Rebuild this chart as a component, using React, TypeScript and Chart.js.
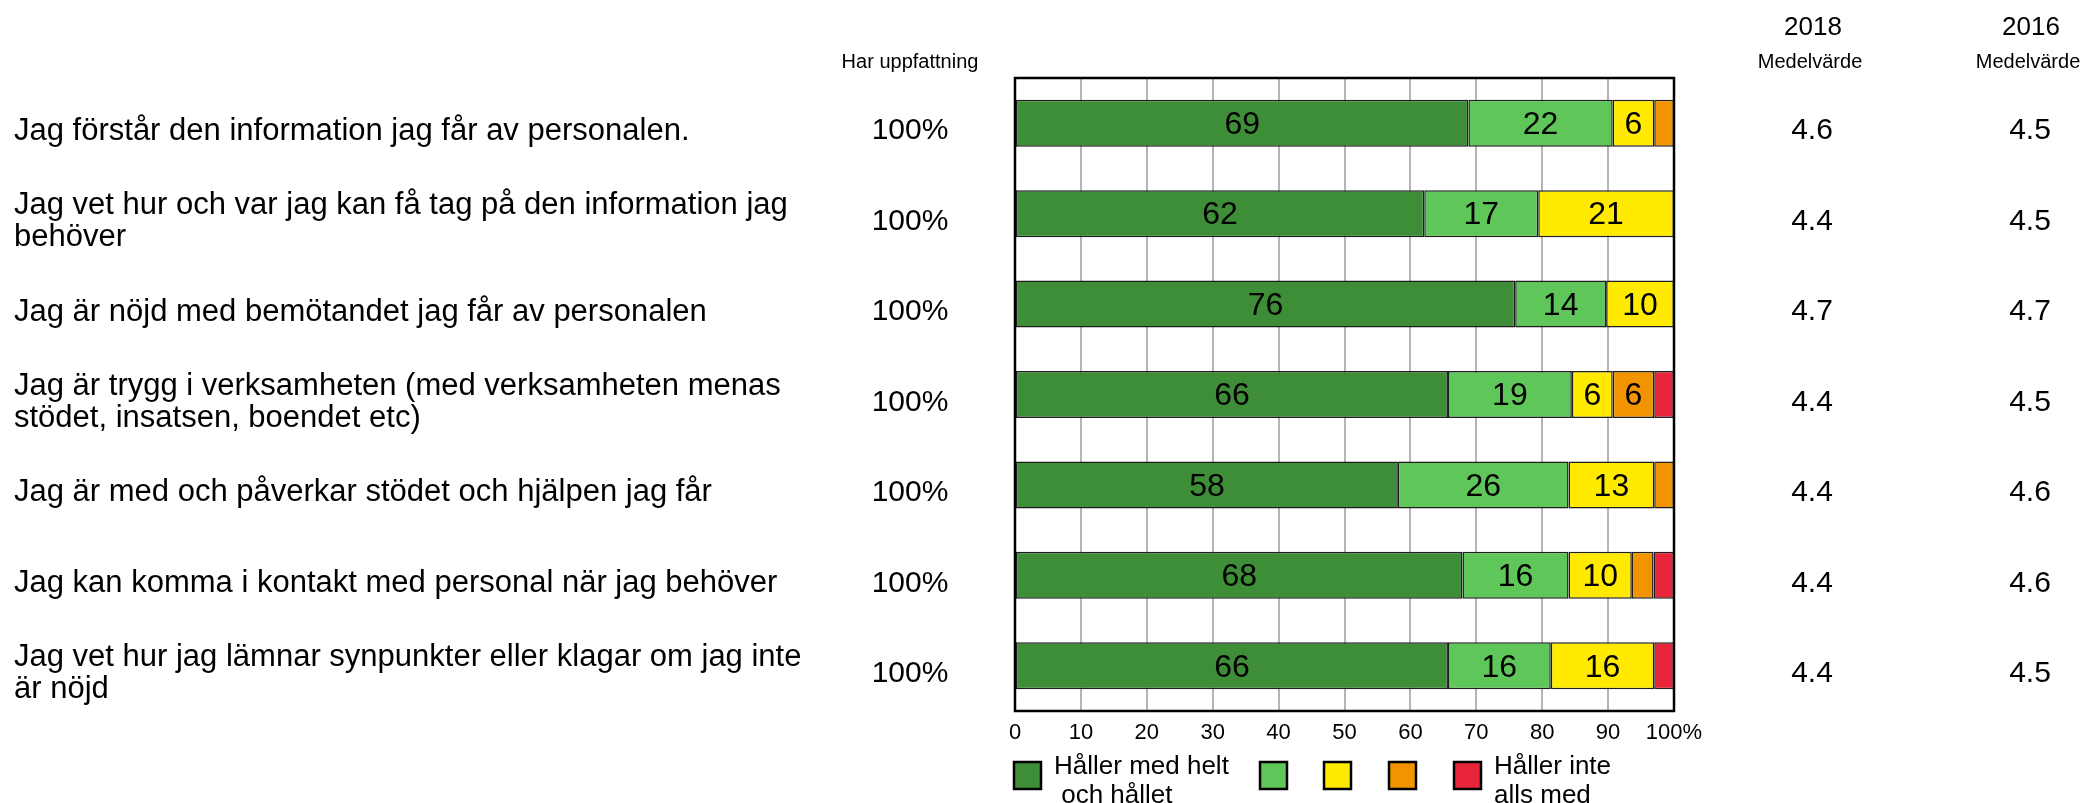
import React, { useEffect, useRef } from 'react';
import { Chart, registerables } from 'chart.js';

Chart.register(...registerables);

const categories: string[][] = [
  ['Jag förstår den information jag får av personalen.'],
  ['Jag vet hur och var jag kan få tag på den information jag', 'behöver'],
  ['Jag är nöjd med bemötandet jag får av personalen'],
  ['Jag är trygg i verksamheten (med verksamheten menas', 'stödet, insatsen, boendet etc)'],
  ['Jag är med och påverkar stödet och hjälpen jag får'],
  ['Jag kan komma i kontakt med personal när jag behöver'],
  ['Jag vet hur jag lämnar synpunkter eller klagar om jag inte', 'är nöjd'],
];

const agreeFully = [68.8, 62.1, 75.9, 65.7, 58.1, 67.9, 65.7];
const agreeMostly = [21.9, 17.3, 13.8, 18.8, 25.9, 16.1, 15.6];
const agreeMiddle = [6.3, 20.6, 10.3, 6.2, 13.0, 9.6, 15.7];
const disagreeMostly = [3.0, null, null, 6.3, 3.0, 3.3, null];
const disagreeFully = [null, null, null, 3.0, null, 3.1, 3.0];

const haveOpinion = ['100%', '100%', '100%', '100%', '100%', '100%', '100%'];
const mean2018 = ['4.6', '4.4', '4.7', '4.4', '4.4', '4.4', '4.4'];
const mean2016 = ['4.5', '4.5', '4.7', '4.5', '4.6', '4.6', '4.5'];

const opinionHeader = 'Har uppfattning';
const meanHeader = 'Medelvärde';
const yearHeaders = ['2018', '2016'];

const legendLabels: string[][] = [
  ['Håller med helt', ' och hållet'],
  [],
  [],
  [],
  ['Håller inte', 'alls med'],
];

const seriesColors = ['#3e8e37', '#5fc65a', '#ffea00', '#f29400', '#e8253a'];

const FONT = "'Liberation Sans', Arial, Helvetica, sans-serif";

const overlayPlugin = {
  id: 'overlay',
  afterDatasetsDraw(chart: any) {
    const ctx = chart.ctx as CanvasRenderingContext2D;
    const area = chart.chartArea;
    ctx.save();
    ctx.fillStyle = '#000';
    ctx.font = `32px ${FONT}`;
    ctx.textAlign = 'center';
    ctx.textBaseline = 'middle';
    chart.data.datasets.forEach((ds: any, d: number) => {
      const meta = chart.getDatasetMeta(d);
      meta.data.forEach((bar: any, i: number) => {
        const v = ds.data[i];
        if (v == null || v < 5) return;
        const p = bar.getProps(['x', 'base', 'y'], true);
        ctx.fillText(String(Math.round(v)), (p.x + p.base) / 2, p.y + 2);
      });
    });
    ctx.strokeStyle = '#000';
    ctx.lineWidth = 2.5;
    ctx.strokeRect(area.left, area.top, area.right - area.left, area.bottom - area.top);
    ctx.restore();
  },
  afterDraw(chart: any) {
    const ctx = chart.ctx as CanvasRenderingContext2D;
    const yScale = chart.scales.y;
    const area = chart.chartArea;
    ctx.save();
    ctx.fillStyle = '#000';
    ctx.textBaseline = 'middle';

    // left question labels
    ctx.textAlign = 'left';
    ctx.font = `31px ${FONT}`;
    categories.forEach((lines, i) => {
      const cy = yScale.getPixelForValue(i) + 8;
      const lh = 32;
      const start = cy - ((lines.length - 1) * lh) / 2;
      lines.forEach((ln, k) => ctx.fillText(ln, 14, start + k * lh));
    });

    // opinion column
    ctx.textAlign = 'center';
    ctx.font = `20px ${FONT}`;
    ctx.fillText(opinionHeader, 910, 62);
    ctx.font = `30px ${FONT}`;
    haveOpinion.forEach((t, i) => ctx.fillText(t, 910, yScale.getPixelForValue(i) + 8));

    // mean columns
    const colX = [1812, 2030];
    ctx.font = `26px ${FONT}`;
    yearHeaders.forEach((t, k) => ctx.fillText(t, colX[k] + 1, 28));
    ctx.font = `20px ${FONT}`;
    yearHeaders.forEach((_, k) => ctx.fillText(meanHeader, colX[k] - 2, 62));
    ctx.font = `30px ${FONT}`;
    mean2018.forEach((t, i) => ctx.fillText(t, colX[0], yScale.getPixelForValue(i) + 8));
    mean2016.forEach((t, i) => ctx.fillText(t, colX[1], yScale.getPixelForValue(i) + 8));

    // legend
    const boxX = [area.left - 1, 1260, 1324, 1389, 1454];
    const boxY = 762;
    const boxS = 27;
    ctx.textAlign = 'left';
    ctx.font = `26px ${FONT}`;
    seriesColors.forEach((c, k) => {
      ctx.fillStyle = c;
      ctx.fillRect(boxX[k], boxY, boxS, boxS);
      ctx.strokeStyle = '#000';
      ctx.lineWidth = 2.5;
      ctx.strokeRect(boxX[k], boxY, boxS, boxS);
      ctx.fillStyle = '#000';
      legendLabels[k].forEach((ln, j) => {
        ctx.fillText(ln, boxX[k] + boxS + 13, 767 + j * 29);
      });
    });
    ctx.restore();
  },
};

export default function App() {
  const ref = useRef<HTMLCanvasElement | null>(null);
  useEffect(() => {
    if (!ref.current) return;
    const mk = (data: (number | null)[], k: number) => ({
      label: `s${k}`,
      data,
      backgroundColor: seriesColors[k],
      borderColor: '#1e1e1e',
      borderWidth: 1.5,
      borderSkipped: false,
      categoryPercentage: 1,
      barPercentage: 0.52,
    });
    const chart = new Chart(ref.current, {
      type: 'bar',
      data: {
        labels: categories.map((c) => c.join(' ')),
        datasets: [
          mk(agreeFully, 0),
          mk(agreeMostly, 1),
          mk(agreeMiddle, 2),
          mk(disagreeMostly, 3),
          mk(disagreeFully, 4),
        ],
      },
      options: {
        indexAxis: 'y',
        animation: false,
        responsive: false,
        events: [],
        layout: { padding: { left: 1015, right: 411, top: 78, bottom: 62 } },
        plugins: { legend: { display: false }, tooltip: { enabled: false } },
        scales: {
          x: {
            stacked: true,
            min: 0,
            max: 100,
            ticks: {
              stepSize: 10,
              padding: 9,
              color: '#000',
              font: { family: FONT, size: 22 },
              maxRotation: 0,
              callback: (v: any) => (v === 100 ? '100%' : String(v)),
            },
            grid: { color: '#b5b5b5', lineWidth: 2, drawTicks: false },
            border: { display: false },
            afterFit: (s: any) => {
              s.height = 30;
            },
          },
          y: {
            stacked: true,
            display: false,
          },
        },
      },
      plugins: [overlayPlugin],
    } as any);
    return () => chart.destroy();
  }, []);
  return (
    <div style={{ position: 'absolute', left: 0, top: 0, width: 2085, height: 803, background: '#fff' }}>
      <canvas ref={ref} width={2085} height={803} style={{ display: 'block' }} />
    </div>
  );
}
